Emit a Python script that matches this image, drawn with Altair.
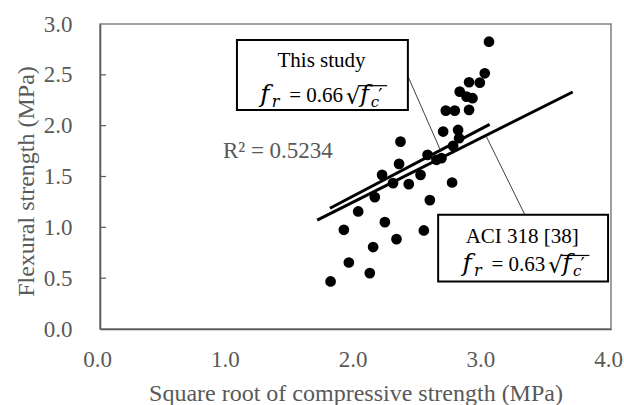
import altair as alt
import pandas as pd

# Measured specimens: square root of compressive strength vs flexural strength (MPa)
sqrt_fc = [3.045, 3.012, 2.973, 2.889, 2.816, 2.869, 2.916, 2.707, 2.777, 2.889,
           2.686, 2.803, 2.811, 2.352, 2.764, 2.564, 2.673, 2.634, 2.341, 2.509,
           2.208, 2.294, 2.417, 2.756, 2.151, 2.582, 2.021, 2.230, 1.909, 2.535,
           2.321, 2.138, 1.948, 2.112, 1.805]
flexural = [2.826, 2.515, 2.423, 2.427, 2.335, 2.286, 2.270, 2.148, 2.148, 2.155,
            1.942, 1.958, 1.877, 1.843, 1.801, 1.713, 1.680, 1.664, 1.624, 1.516,
            1.516, 1.435, 1.425, 1.441, 1.297, 1.268, 1.156, 1.051, 0.976, 0.969,
            0.884, 0.806, 0.654, 0.550, 0.468]

# Model lines f_r = k * sqrt(f'c)
study_coef = 0.66
study_range = [1.80, 3.05]
aci_coef = 0.63
aci_range = [1.70, 3.70]

x_ticks = [0.0, 1.0, 2.0, 3.0, 4.0]
y_ticks = [0.0, 0.5, 1.0, 1.5, 2.0, 2.5, 3.0]
inner_ticks = [0.5, 1.0, 1.5, 2.0, 2.5]

W, H = 511, 305
PX_X = 4.0 / W   # data units per pixel
PX_Y = 3.0 / H

SERIF = "Liberation Serif"
MATH = "DejaVu Serif"
GRAY = "#595959"

xscale = alt.Scale(domain=[0, 4], nice=False, zero=False)
yscale = alt.Scale(domain=[0, 3], nice=False, zero=False)

x_axis = alt.Axis(values=x_ticks, format=".1f", ticks=False, grid=False,
                  labelFlush=False, labelOverlap=False, labelOffset=-3,
                  title="Square root of compressive strength (MPa)",
                  labelPadding=19, titleY=71, titleBaseline="alphabetic")
y_axis = alt.Axis(values=y_ticks, format=".1f", ticks=False, grid=False,
                  labelFlush=False, labelOverlap=False,
                  title="Flexural strength (MPa)", labelPadding=28,
                  titleX=-74, titleY=157, titleAngle=-90,
                  titleAlign="center", titleBaseline="middle")


def X(field):
    return alt.X(field, type="quantitative", scale=xscale, axis=x_axis)


def Y(field):
    return alt.Y(field, type="quantitative", scale=yscale, axis=y_axis)


points = pd.DataFrame({"x": sqrt_fc, "y": flexural})
scatter = alt.Chart(points).mark_circle(size=115, color="black", opacity=1).encode(
    x=X("x"), y=Y("y"))

ticks = alt.Chart(pd.DataFrame({"v": inner_ticks})).mark_rule(
    color=GRAY, strokeWidth=1.2
).encode(y=Y("v"), x=alt.value(0), x2=alt.value(6))

line_rows = []
for name, coef, rng in [("study", study_coef, study_range), ("aci", aci_coef, aci_range)]:
    for xv in rng:
        line_rows.append({"series": name, "x": xv, "y": coef * xv})
lines = alt.Chart(pd.DataFrame(line_rows)).mark_line(
    color="black", strokeWidth=3
).encode(x=X("x"), y=Y("y"), detail="series:N")

# Callout leaders from the boxes to the lines
leaders = alt.Chart(pd.DataFrame({
    "x": [2.412, 3.026], "y": [2.481, 1.889],
    "x2": [2.664, 3.326], "y2": [1.761, 1.123],
})).mark_rule(color="#404040", strokeWidth=1).encode(
    x=X("x"), y=Y("y"), x2="x2:Q", y2="y2:Q")

boxes = alt.Chart(pd.DataFrame({
    "x": [1.072, 2.647], "x2": [2.410, 3.977],
    "y": [2.842, 1.123], "y2": [2.154, 0.468],
})).mark_rect(fill="white", stroke="black", strokeWidth=2).encode(
    x=X("x"), x2="x2:Q", y=Y("y"), y2="y2:Q")

headings = alt.Chart(pd.DataFrame({
    "x": [1.734, 3.305], "y": [2.580, 0.845], "t": ["This study", "ACI 318 [38]"],
})).mark_text(font=SERIF, fontSize=21, color="black", align="center",
              baseline="alphabetic").encode(x=X("x"), y=Y("y"), text="t:N")

r2 = alt.Chart(pd.DataFrame({"x": [0.962], "y": [1.680], "t": ["R² = 0.5234"]})).mark_text(
    font=SERIF, fontSize=23, color=GRAY, align="left", baseline="alphabetic"
).encode(x=X("x"), y=Y("y"), text="t:N")


def formula(x0, y0, coef):
    """f_r = coef * sqrt(f'_c), set in pieces starting at (x0, y0)."""
    anchor = pd.DataFrame({"x": [x0], "y": [y0]})
    pieces = [
        ("f", 1, 0, 25, "italic", MATH),
        ("r", 12.5, 5, 16, "italic", MATH),
        ("= %.2f" % coef, 30.0, 0, 21, "normal", SERIF),
        ("√", 86.5, 2, 23, "normal", MATH),
        ("f", 101.0, 0, 24, "italic", MATH),
        ("c", 111.5, 5, 15, "italic", MATH),
        ("′", 119.0, 0, 19, "normal", MATH),
    ]
    layers = []
    for txt, dx, dy, size, style, fnt in pieces:
        layers.append(alt.Chart(anchor).mark_text(
            text=txt, dx=dx, dy=dy, font=fnt, fontSize=size, fontStyle=style,
            color="black", align="left", baseline="alphabetic"
        ).encode(x=X("x"), y=Y("y")))
    bar = pd.DataFrame({"x": [x0 + 99.5 * PX_X], "x2": [x0 + 128.0 * PX_X],
                        "y": [y0 + 16.0 * PX_Y]})
    layers.append(alt.Chart(bar).mark_rule(color="black", strokeWidth=1.2).encode(
        x=X("x"), x2="x2:Q", y=Y("y")))
    return layers


chart = alt.layer(
    scatter, ticks, lines, leaders, boxes, headings, r2,
    *formula(1.246, 2.236, study_coef),
    *formula(2.829, 0.566, aci_coef),
).properties(
    width=W, height=H,
    autosize=alt.AutoSizeParams(type="none"),
    padding={"left": 100, "top": 24, "right": 13, "bottom": 76},
    background="white",
).configure_view(
    stroke="#808080", strokeWidth=1.5
).configure_axis(
    labelFont=SERIF, labelFontSize=23, labelColor=GRAY,
    titleFont=SERIF, titleFontSize=24, titleColor=GRAY, titleFontWeight="normal",
    domainColor=GRAY, domainWidth=1.5,
)

chart.save("out.html", embed_options={"renderer": "svg", "actions": False})
